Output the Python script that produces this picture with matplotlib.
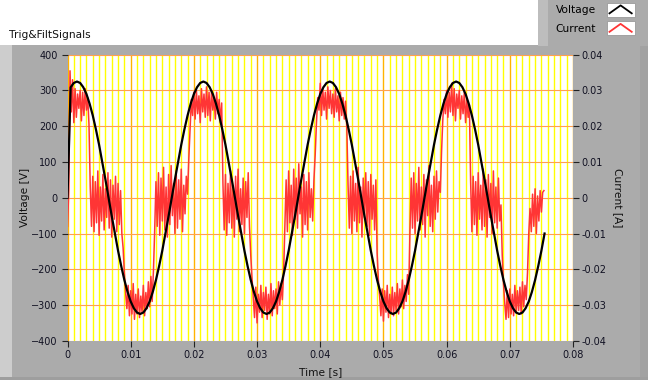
import numpy as np
import matplotlib
matplotlib.use("Agg")
import matplotlib.pyplot as plt
from matplotlib.patches import Rectangle
from matplotlib.lines import Line2D
from matplotlib.legend_handler import HandlerBase

plt.rcParams['font.family'] = ['DejaVu Sans']

# ---------------- data ----------------
voltage_dt = 0.0005   # s between voltage samples
current_dt = 0.0002   # s between current samples

voltage_V = [
    0, 309, 321,
    325, 321, 309, 290, 263, 230, 191, 148, 100, 51, 0, -51, -100, -148, -191, -230, -263, -290, -309, -321,
    -325, -321, -309, -290, -263, -230, -191, -148, -100, -51, 0, 51, 100, 148, 191, 230, 263, 290, 309, 321,
    325, 321, 309, 290, 263, 230, 191, 148, 100, 51, 0, -51, -100, -148, -191, -230, -263, -290, -309, -321,
    -325, -321, -309, -290, -263, -230, -191, -148, -100, -51, 0, 51, 100, 148, 191, 230, 263, 290, 309, 321,
    325, 321, 309, 290, 263, 230, 191, 148, 100, 51, 0, -51, -100, -148, -191, -230, -263, -290, -309, -321,
    -325, -321, -309, -290, -263, -230, -191, -148, -100, -51, 0, 51, 100, 148, 191, 230, 263, 290, 309, 321,
    325, 321, 309, 290, 263, 230, 191, 148, 100, 51, 0, -51, -100, -148, -191, -230, -263, -290, -309, -321,
    -325, -321, -309, -290, -263, -230, -191, -148, -100,
]

current_mA = [
    # cycle 1
    -8.0, 2.0, 35.5, 24.0, 33.0, 21.0, 30.5, 22.5, 29.0, 25.0, 30.0, 21.5, 29.5, 23.0, 30.5, 24.5, 28.0, 20.5, 3.0, -8.0,
    6.0, -9.5, 4.5, -7.0, 7.5, -10.5, 3.0, -6.5, 6.5, -9.0, 2.5, -5.5, 7.0, -8.5, 5.0, -11.0, 3.5, -6.0, 6.0, -9.5, 4.0, -7.5, 2.0, -10.0,
    -14.0, -21.0, -26.5, -31.0, -24.5, -33.0, -26.0, -32.5, -24.0, -34.0, -27.0, -32.5, -25.5, -33.5, -27.5, -32.0, -24.5, -33.0, -26.5, -31.0, -23.5, -30.5, -22.0, -29.0, -20.5,
    -9.0,
    4.5, -8.0, 7.0, -10.5, 5.5, -6.5, 8.5, -9.0, 3.0, -11.0, 6.5, -7.5, 9.0, -5.0, 4.0, -10.0, 7.5, -8.5, 5.0, -6.0, 8.0, -9.5, 3.5, -4.5, 6.0, 1.0,
    11.0, 19.0, 27.5, 23.0,
    # cycle 2
    29.5, 22.0, 30.0, 23.5, 28.5, 21.0, 30.5, 24.0, 29.0, 22.5, 31.0, 23.0, 29.5, 21.5, 30.0, 24.5, 28.0, 22.0, 29.5, 23.5, 27.5, 21.0, 26.5,
    4.0,
    -9.0, 6.5, -10.5, 4.0, -7.0, 7.5, -8.5, 3.0, -11.0, 6.0, -6.0, 8.0, -9.5, 2.5, -7.5, 5.5, -10.0, 4.5, -5.5, 7.0, -8.0,
    -16.0, -22.5, -28.0, -33.5, -25.0, -35.0, -27.0, -32.0, -24.5, -33.5, -26.5, -31.5, -25.0, -34.0, -27.0, -32.5, -24.0, -33.0, -26.0, -31.0, -25.5, -32.5, -23.5, -30.0, -24.0, -28.5, -21.0,
    -8.5,
    5.0, -9.5, 7.5, -7.0, 3.5, -10.5, 8.0, -6.0, 5.5, -8.5, 9.5, -4.5, 3.0, -11.0, 6.5, -7.5, 4.5, -9.0, 7.0, -5.5, 2.5, -6.5, 5.0,
    12.0, 21.0, 28.0, 24.5,
    # cycle 3
    32.0, 23.0, 30.5, 24.5, 29.5, 22.0, 31.0, 25.0, 30.0, 23.5, 29.0, 22.5, 30.5, 24.0, 28.5, 21.5, 29.5, 23.0, 28.0, 22.0, 27.0, 20.0,
    3.5,
    -8.5, 6.0, -10.0, 7.5, -6.5, 4.0, -9.5, 8.5, -7.0, 3.0, -11.0, 5.5, -5.5, 7.0, -8.0, 4.5, -10.5, 6.5, -6.0, 3.5, -9.0, 5.0,
    -15.5, -23.0, -27.5, -33.0, -25.5, -34.5, -26.0, -32.0, -24.5, -33.5, -27.0, -32.5, -25.0, -33.0, -26.5, -31.5, -24.0, -32.5, -25.5, -30.5, -23.0, -31.0, -24.5, -29.0, -21.5, -27.0,
    -9.0,
    5.5, -8.5, 7.0, -10.0, 4.0, -6.5, 8.5, -9.0, 3.0, -7.5, 6.5, -11.0, 5.0, -5.0, 9.0, -8.0, 3.5, -9.5, 6.0, -6.0, 7.5, -4.0, 4.5, 1.5,
    13.0, 22.0, 27.5, 23.5,
    # cycle 4
    30.0, 22.5, 29.5, 24.0, 32.0, 23.0, 30.5, 21.5, 29.0, 25.0, 30.0, 22.0, 28.5, 23.5, 29.5, 21.0, 27.5, 22.5, 26.0,
    4.5,
    -9.5, 6.0, -7.5, 4.5, -10.5, 7.0, -6.0, 3.5, -9.0, 8.0, -8.0, 5.0, -11.0, 6.5, -5.5, 4.0, -10.0, 7.5, -7.0, 3.0, -8.5, 5.5, -6.5, -2.0,
    -16.0, -24.0, -29.5, -34.0, -26.0, -33.5, -25.5, -32.5, -27.0, -33.0, -24.5, -32.0, -26.0, -31.5, -25.0, -32.5, -23.5, -30.5, -24.5, -28.5, -21.0,
    -10.0,
    -3.0, -9.5, 1.0, -8.0, 2.5, -10.0, 0.5, -6.5, 2.0, -4.0, 1.5, 2.0,
]

time_ticks = [0, 0.01, 0.02, 0.03, 0.04, 0.05, 0.06, 0.07, 0.08]
time_tick_labels = ['0', '0.01', '0.02', '0.03', '0.04', '0.05', '0.06', '0.07', '0.08']
voltage_ticks = [-400, -300, -200, -100, 0, 100, 200, 300, 400]
current_ticks = [-0.04, -0.03, -0.02, -0.01, 0, 0.01, 0.02, 0.03, 0.04]
current_tick_labels = ['-0.04', '-0.03', '-0.02', '-0.01', '0', '0.01', '0.02', '0.03', '0.04']
series_labels = ['Voltage', 'Current']

t_v = np.arange(len(voltage_V)) * voltage_dt
t_i = np.arange(len(current_mA)) * current_dt
current_A = np.array(current_mA) / 1000.0

# ---------------- figure ----------------
W, H = 648, 380
fig = plt.figure(figsize=(W / 100, H / 100), dpi=100, facecolor='white')

def fx(px):
    return px / W

def fy(py):
    return 1 - py / H

panel_gray = '#ABABAB'
# frame panels
fig.add_artist(Rectangle((0, 0), 1, fy(45), transform=fig.transFigure,
                         facecolor=panel_gray, edgecolor='none', zorder=-10))
fig.add_artist(Rectangle((0, 0), fx(12), fy(45), transform=fig.transFigure,
                         facecolor='#CDCDCD', edgecolor='none', zorder=-9))
fig.add_artist(Rectangle((fx(640), 0), 1 - fx(640), fy(45), transform=fig.transFigure,
                         facecolor='#A2A2A2', edgecolor='none', zorder=-9))
fig.add_artist(Rectangle((0, 0), 1, 3 / H, transform=fig.transFigure,
                         facecolor='#9E9E9E', edgecolor='none', zorder=-9))
# legend panel
fig.add_artist(Rectangle((fx(538), fy(46)), 1 - fx(538), 46 / H, transform=fig.transFigure,
                         facecolor=panel_gray, edgecolor='none', zorder=-8))
fig.add_artist(Rectangle((fx(538), fy(46)), fx(548) - fx(538), 46 / H, transform=fig.transFigure,
                         facecolor='#BDBDBD', edgecolor='none', zorder=-7))

fig.text(fx(9), fy(38.5), 'Trig&FiltSignals', ha='left', va='baseline',
         fontsize=7.7, color='#111111')

ax = fig.add_axes([fx(67.5), fy(340.8), fx(573) - fx(67.5), (340.8 - 54.7) / H])
ax.set_facecolor('white')
ax.set_xlim(0, 0.08)
ax.set_ylim(-400, 400)
ax.set_xticks(time_ticks, time_tick_labels)
ax.set_xticks(np.round(np.arange(0, 0.0801, 0.001), 4), minor=True)
ax.set_yticks(voltage_ticks)
for s in ax.spines.values():
    s.set_visible(False)

ax.grid(which='minor', axis='x', color='#FFFF00', linewidth=1.0)
ax.grid(which='major', axis='x', color='#FFB300', linewidth=1.0)
ax.grid(which='major', axis='y', color='#FFA050', linewidth=0.8)
ax.set_axisbelow(True)

ax.tick_params(axis='x', which='major', length=4, width=0.8, color='#222222',
               labelsize=7, pad=2.5, labelcolor='#111122')
ax.tick_params(axis='y', which='major', length=4.6, width=0.8, color='#222222',
               labelsize=7, pad=2.6, labelcolor='#111122')
ax.tick_params(which='minor', length=0)

ax2 = ax.twinx()
ax2.set_ylim(-0.04, 0.04)
ax2.set_yticks(current_ticks, current_tick_labels)
for s in ax2.spines.values():
    s.set_visible(False)
ax2.tick_params(axis='y', which='major', length=4.3, width=0.8, color='#222222',
                labelsize=7, pad=1.5, labelcolor='#111122')

line_i, = ax2.plot(t_i, current_A, color='#FF3535', linewidth=1.1, zorder=2)
line_v, = ax2.plot(t_v, voltage_V, color='black', linewidth=1.6, zorder=3,
                   transform=ax.transData)

ax.set_ylabel('Voltage [V]', fontsize=7.7, va='center', color='#111111')
ax.yaxis.set_label_coords(-0.0835, 0.5)
ax2.set_ylabel('Current [A]', fontsize=7.7, rotation=270, va='center', color='#111111')
ax2.yaxis.set_label_coords(1.088, 0.5)
ax.set_xlabel('Time [s]', fontsize=7.7, va='center', color='#111111')
ax.xaxis.set_label_coords(0.5, -0.1086)


class ChevronHandler(HandlerBase):
    def create_artists(self, legend, orig_handle, xdescent, ydescent,
                       width, height, fontsize, trans):
        x0, y0 = -xdescent, -ydescent
        rect = Rectangle((x0, y0), width, height, facecolor='white',
                         edgecolor='#9A9A9A', linewidth=0.6, transform=trans)
        xs = [x0 + 0.1 * width, x0 + 0.5 * width, x0 + 0.9 * width]
        ys = [y0 + 0.25 * height, y0 + 0.8 * height, y0 + 0.25 * height]
        ln = Line2D(xs, ys, color=orig_handle.get_color(), linewidth=1.3,
                    transform=trans)
        return [rect, ln]


fig.legend(handles=[line_v, line_i], labels=series_labels,
           loc='upper right', bbox_to_anchor=(fx(634.5), fy(2.5)),
           bbox_transform=fig.transFigure, frameon=False, markerfirst=False,
           handler_map={Line2D: ChevronHandler()}, handlelength=2.6,
           handleheight=1.7, handletextpad=1.0, labelspacing=0.38,
           borderpad=0, borderaxespad=0, fontsize=7.7)

fig.savefig('out.png', dpi=100, facecolor=fig.get_facecolor())
